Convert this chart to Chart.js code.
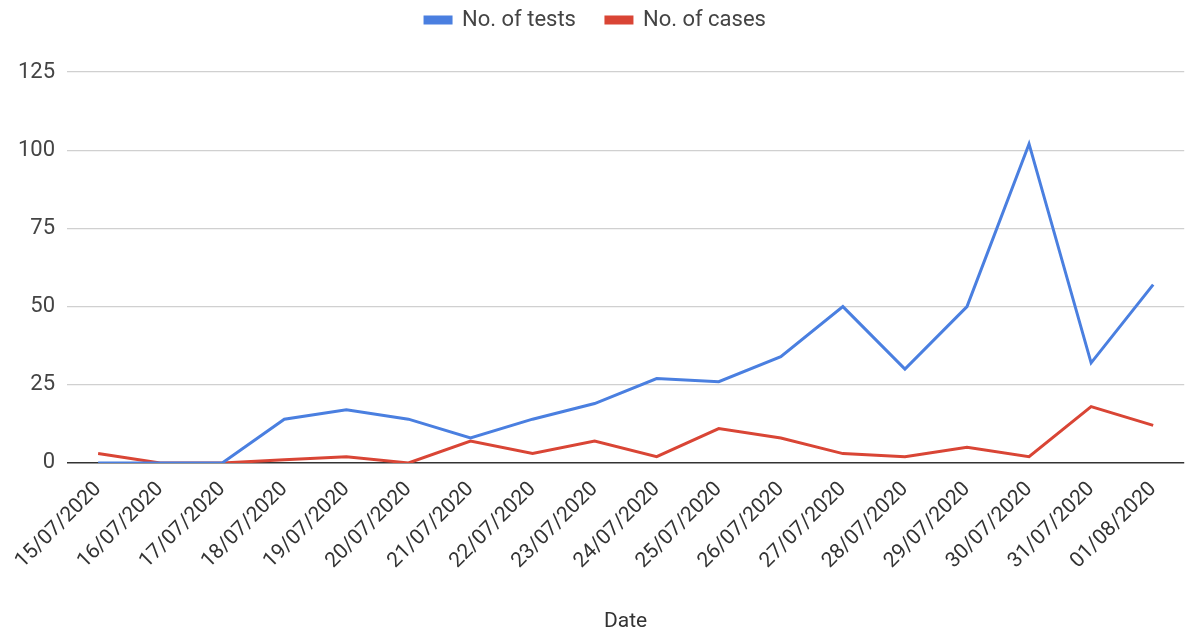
<!DOCTYPE html>
<html>
<head>
<meta charset="utf-8">
<script src="https://cdn.jsdelivr.net/npm/chart.js@4"></script>
<style>
  html, body { margin: 0; padding: 0; background: #fff; }
  #wrap { width: 1185px; height: 634px; }
</style>
</head>
<body>
<div id="wrap"><canvas id="chart"></canvas></div>
<script>
const dates = ['15/07/2020', '16/07/2020', '17/07/2020', '18/07/2020', '19/07/2020', '20/07/2020',
  '21/07/2020', '22/07/2020', '23/07/2020', '24/07/2020', '25/07/2020', '26/07/2020',
  '27/07/2020', '28/07/2020', '29/07/2020', '30/07/2020', '31/07/2020', '01/08/2020'];
const tests = [0, 0, 0, 14, 17, 14, 8, 14, 19, 27, 26, 34, 50, 30, 50, 102, 32, 57];
const cases = [3, 0, 0, 1, 2, 0, 7, 3, 7, 2, 11, 8, 3, 2, 5, 2, 18, 12];
const yTicks = [0, 25, 50, 75, 100, 125];

const font = "Roboto, Arial, sans-serif";

// give the legend some extra room below it
const legendSpace = {
  id: 'legendSpace',
  beforeInit(chart) {
    const fit = chart.legend.fit;
    chart.legend.fit = function () {
      fit.bind(chart.legend)();
      this.height += 31;
    };
  }
};

let ctx = document.getElementById('chart');
let myChart = new Chart(ctx, {
  type: 'line',
  data: {
    labels: dates,
    datasets: [
      {
        label: 'No. of tests',
        data: tests,
        borderColor: '#4a7fe0',
        backgroundColor: '#4a7fe0',
        borderWidth: 3,
        pointRadius: 0,
        tension: 0
      },
      {
        label: 'No. of cases',
        data: cases,
        borderColor: '#d94535',
        backgroundColor: '#d94535',
        borderWidth: 3,
        pointRadius: 0,
        tension: 0
      }
    ]
  },
  plugins: [legendSpace],
  options: {
    responsive: true,
    maintainAspectRatio: false,
    animation: false,
    layout: { padding: { left: 6, right: 0, top: -21, bottom: 0 } },
    plugins: {
      legend: {
        position: 'top',
        labels: {
          boxWidth: 26,
          boxHeight: 6,
          padding: 30,
          color: '#444',
          font: { family: font, size: 22 }
        }
      },
      tooltip: { enabled: false }
    },
    scales: {
      x: {
        offset: true,
        grid: { display: false, drawTicks: false },
        border: { display: false },
        ticks: {
          autoSkip: false,
          maxRotation: 45,
          minRotation: 45,
          padding: 14,
          color: '#333',
          font: { family: font, size: 21 }
        },
        title: {
          display: true,
          text: 'Date',
          color: '#333',
          padding: { top: 21, bottom: 0 },
          font: { family: font, size: 21 }
        }
      },
      y: {
        min: 0,
        max: 125,
        afterBuildTicks: axis => { axis.ticks = yTicks.map(v => ({ value: v })); },
        grid: {
          drawTicks: false,
          color: c => c.tick && c.tick.value === 0 ? '#333' : '#d0d0d0',
          lineWidth: c => c.tick && c.tick.value === 0 ? 1.5 : 1.2
        },
        border: { display: false },
        ticks: {
          padding: 12,
          color: '#444',
          font: { family: font, size: 22 }
        }
      }
    }
  }
});
</script>
</body>
</html>
